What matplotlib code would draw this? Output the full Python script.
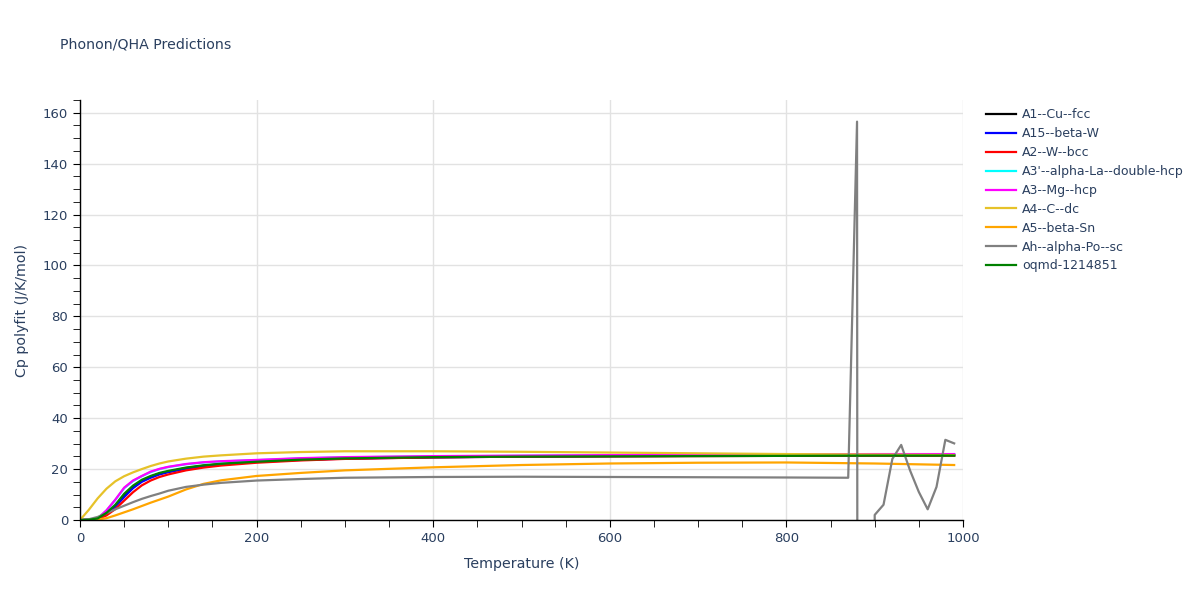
import numpy as np
import matplotlib.pyplot as plt
from matplotlib.ticker import MultipleLocator

#%% data
T = [0, 10, 20, 30, 40, 50, 60, 70, 80, 90, 100, 120, 140, 160, 200, 250, 300, 400, 500, 600, 700, 800, 900, 990]

cp_cu = [0, 0.1, 0.5, 2.5, 5.6, 9.6, 13.0, 15.4, 17.0, 18.2, 19.0, 20.4, 21.3, 22.0, 22.9, 23.7, 24.2, 24.7, 24.9, 25.1, 25.2, 25.3, 25.4, 25.4]
cp_betaw = [0, 0.1, 0.5, 2.3, 5.2, 9.0, 12.5, 15.0, 16.6, 17.9, 18.8, 20.1, 21.1, 21.8, 22.8, 23.6, 24.1, 24.6, 24.9, 25.1, 25.2, 25.3, 25.4, 25.5]
cp_w = [0, 0.1, 0.4, 1.8, 4.3, 7.6, 10.9, 13.6, 15.5, 16.9, 17.9, 19.5, 20.6, 21.4, 22.5, 23.4, 24.0, 24.6, 24.9, 25.0, 25.1, 25.2, 25.3, 25.3]
cp_la = [0, 0.1, 0.6, 3.7, 7.9, 12.5, 15.3, 17.2, 18.8, 20.0, 20.8, 21.9, 22.6, 23.0, 23.5, 24.2, 24.6, 25.0, 25.2, 25.4, 25.5, 25.7, 25.8, 25.8]
cp_mg = [0, 0.1, 0.6, 3.8, 8.0, 12.7, 15.5, 17.3, 19.0, 20.1, 20.9, 22.0, 22.7, 23.1, 23.6, 24.3, 24.7, 25.1, 25.3, 25.5, 25.6, 25.8, 25.9, 25.9]
cp_c = [0, 4.0, 8.5, 12.3, 15.2, 17.2, 18.7, 20.0, 21.2, 22.2, 23.0, 24.1, 24.9, 25.4, 26.2, 26.7, 27.0, 27.0, 26.8, 26.5, 26.2, 25.9, 25.7, 25.5]
cp_sn = [0, 0.0, 0.2, 0.7, 1.8, 3.0, 4.2, 5.5, 6.8, 8.0, 9.2, 12.0, 14.2, 15.6, 17.3, 18.5, 19.5, 20.7, 21.6, 22.2, 22.5, 22.6, 22.2, 21.6]

T_po = [0, 10, 20, 30, 40, 50, 60, 70, 80, 90, 100, 120, 140, 160, 200, 250, 300, 400, 500, 600, 700, 800, 870,
        880, 890, 900, 910, 920, 930, 940, 950, 960, 970, 980, 990]
cp_po = [0, 0.3, 1.2, 2.7, 4.2, 5.6, 7.0, 8.3, 9.4, 10.4, 11.5, 13.0, 13.9, 14.6, 15.5, 16.1, 16.6, 16.9, 17.0, 16.9, 16.8, 16.7, 16.6,
         156.5, -5000, 2.0, 6.0, 24.0, 29.5, 19.5, 11.0, 4.2, 13.0, 31.5, 30.1]

cp_oqmd = [0, 0.1, 0.6, 2.8, 6.0, 10.3, 13.5, 15.8, 17.3, 18.5, 19.3, 20.6, 21.5, 22.1, 22.9, 23.7, 24.2, 24.7, 24.9, 25.0, 25.1, 25.2, 25.3, 25.3]

labels = ['A1--Cu--fcc', 'A15--beta-W', 'A2--W--bcc', "A3'--alpha-La--double-hcp", 'A3--Mg--hcp',
          'A4--C--dc', 'A5--beta-Sn', 'Ah--alpha-Po--sc', 'oqmd-1214851']
colors = ['black', 'blue', 'red', 'cyan', 'magenta', '#e6c229', 'orange', 'gray', 'green']
series = [(T, cp_cu), (T, cp_betaw), (T, cp_w), (T, cp_la), (T, cp_mg), (T, cp_c), (T, cp_sn), (T_po, cp_po), (T, cp_oqmd)]

#%% plot
txt = '#2a3f5f'
fig = plt.figure(figsize=(12, 6), dpi=100)
ax = fig.add_axes([80/1200, 80/600, 883/1200, 420/600])

for (x, y), lab, c in zip(series, labels, colors):
    ax.plot(x, y, color=c, lw=1.6, label=lab)

ax.set_xlim(0, 1000)
ax.set_ylim(0, 165)
ax.xaxis.set_major_locator(MultipleLocator(200))
ax.xaxis.set_minor_locator(MultipleLocator(50))
ax.yaxis.set_major_locator(MultipleLocator(20))
ax.yaxis.set_minor_locator(MultipleLocator(5))
ax.grid(True, which='major', color='#e2e2e2', lw=1)
ax.set_axisbelow(True)
for s in ['top', 'right']:
    ax.spines[s].set_visible(False)
for s in ['left', 'bottom']:
    ax.spines[s].set_color('black')
    ax.spines[s].set_linewidth(1)
ax.tick_params(which='major', length=5, color='black', labelcolor=txt, labelsize=9.5)
ax.tick_params(which='minor', length=5, color='black')
ax.set_xlabel('Temperature (K)', color=txt, fontsize=10.3, labelpad=9)
ax.set_ylabel('Cp polyfit (J/K/mol)', color=txt, fontsize=10.3, labelpad=10)

fig.text(60/1200, 1 - 45/600, 'Phonon/QHA Predictions', color=txt, fontsize=10.2, va='center')

leg = ax.legend(loc='upper left', bbox_to_anchor=((986 - 80)/883, 0.98), frameon=False,
                fontsize=9, labelcolor=txt, handlelength=2.4, handletextpad=0.5,
                labelspacing=0.47, borderpad=0, borderaxespad=0)

fig.savefig('out.png', dpi=100)
